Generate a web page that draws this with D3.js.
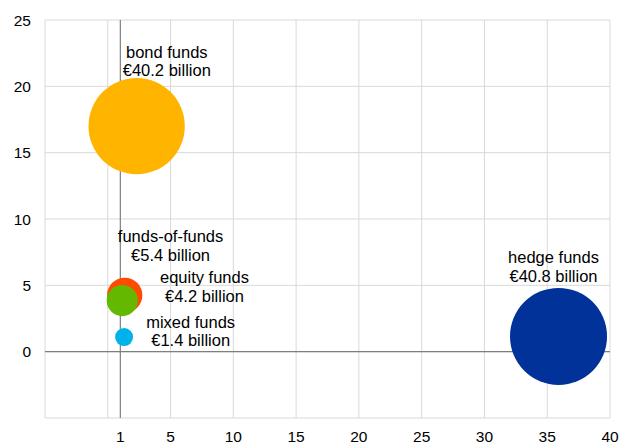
<!doctype html>
<html lang="en">
<head>
<meta charset="UTF-8" />
<title>Investment fund bubbles</title>
<script src="https://d3js.org/d3.v7.min.js"></script>
<style>
  html,body{margin:0;padding:0;background:#fff;}
  svg{display:block;font-family:"Liberation Sans",Arial,Helvetica,sans-serif;}
  .grid line{stroke:#d9d9d9;stroke-width:1px;}
  .tick-label{font-size:15.5px;fill:#000;}
  .bubble-label{font-size:16.5px;fill:#000;}
</style>
</head>
<body>
<div id="chart"></div>
<script>
  // ---- data ----
  const names   = ['bond funds','hedge funds','funds-of-funds','equity funds','mixed funds'];
  const xVals   = [2.3, 35.9, 1.35, 1.15, 1.3];
  const yVals   = [17.0, 1.15, 4.25, 3.85, 1.1];
  const sizes   = [40.2, 40.8, 5.4, 4.2, 1.4];
  const colors  = ['#FFB400','#003299','#FF4B00','#65B800','#00B1EA'];
  // label anchor in data units (centre of the two-line text)
  const labX    = [4.7, 35.5, 5.0, 7.7, 6.6];
  const labY    = [21.9, 6.4, 8.0, 4.9, 1.55];
  const xTicks  = [1,5,10,15,20,25,30,35,40];
  const xGrid   = [-5,0,5,10,15,20,25,30,35,40];
  const yTicks  = [0,5,10,15,20,25];
  const yGrid   = [-5,0,5,10,15,20,25];

  // ---- geometry ----
  const W = 621, H = 443;
  const M = {left:45, right:11, top:20, bottom:25};

  const svg = d3.select('#chart').append('svg').attr('width',W).attr('height',H);

  const x = d3.scaleLinear().domain([-5,40]).range([M.left, W-M.right]);
  const y = d3.scaleLinear().domain([-5,25]).range([H-M.bottom, M.top]);
  const r = d3.scaleSqrt().domain([0,40.8]).range([0,48.5]);

  // grid
  const g = svg.append('g').attr('class','grid');
  g.selectAll('.vx').data(xGrid).enter().append('line')
    .attr('x1',d=>x(d)).attr('x2',d=>x(d))
    .attr('y1',y(25)).attr('y2',y(-5));
  g.selectAll('.hy').data(yGrid).enter().append('line')
    .attr('x1',x(-5)).attr('x2',x(40))
    .attr('y1',d=>y(d)).attr('y2',d=>y(d));

  // zero axes (x = 1 vertical, y = 0 horizontal)
  svg.append('line').attr('x1',x(-5)).attr('x2',x(40))
     .attr('y1',y(0)).attr('y2',y(0))
     .attr('stroke','#7f7f7f').attr('stroke-width',1.2);
  svg.append('line').attr('x1',x(1)).attr('x2',x(1))
     .attr('y1',y(25)).attr('y2',y(-5))
     .attr('stroke','#7f7f7f').attr('stroke-width',1.2);

  // tick labels
  svg.selectAll('.xt').data(xTicks).enter().append('text')
     .attr('class','tick-label')
     .attr('x',d=>x(d)).attr('y',H-1.5)
     .attr('text-anchor','middle').text(d=>d);
  svg.selectAll('.yt').data(yTicks).enter().append('text')
     .attr('class','tick-label')
     .attr('x',31).attr('y',d=>y(d)).attr('dy','0.36em')
     .attr('text-anchor','end').text(d=>d);

  // bubbles
  svg.selectAll('circle.b').data(d3.range(names.length)).enter().append('circle')
     .attr('class','b')
     .attr('cx',i=>x(xVals[i])).attr('cy',i=>y(yVals[i]))
     .attr('r',i=>r(sizes[i]))
     .attr('fill',i=>colors[i]);

  // labels
  const lab = svg.selectAll('text.bl').data(d3.range(names.length)).enter().append('text')
     .attr('class','bubble-label')
     .attr('text-anchor','middle')
     .attr('transform',i=>`translate(${x(labX[i])},${y(labY[i])})`);
  lab.append('tspan').attr('x',0).attr('dy',-3.5).text(i=>names[i]);
  lab.append('tspan').attr('x',0).attr('dy',18.5).text(i=>'€'+sizes[i].toFixed(1)+' billion');
</script>
</body>
</html>
